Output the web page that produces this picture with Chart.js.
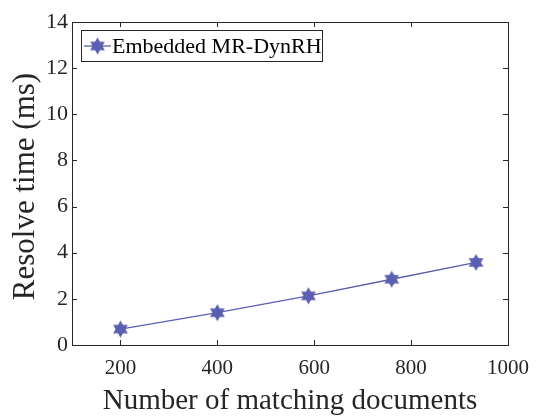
<!DOCTYPE html>
<html>
<head>
<meta charset="utf-8">
<script src="https://cdn.jsdelivr.net/npm/chart.js@4"></script>
<style>
html,body{margin:0;padding:0;background:#fff;}
#c{display:block;}
</style>
</head>
<body>
<canvas id="c" width="540" height="420"></canvas>
<script>
const seriesLabel = 'Embedded MR-DynRH';
const xValues = [200, 400, 588, 760, 934];
const yValues = [0.69, 1.40, 2.13, 2.85, 3.58];
const xTicks = [200, 400, 600, 800, 1000];
const yTicks = [0, 2, 4, 6, 8, 10, 12, 14];
const xTitle = 'Number of matching documents';
const yTitle = 'Resolve time (ms)';

const COLOR = '#5a5fb2';
const AXIS = '#262626';
const FONT = 'Liberation Serif, Times New Roman, serif';

function makeStar(r, color) {
  const s = Math.ceil(r * 2 + 2);
  const cv = document.createElement('canvas');
  cv.width = s; cv.height = s;
  const g = cv.getContext('2d');
  const c = s / 2;
  g.fillStyle = color;
  [[-90, 30, 150], [90, 210, 330]].forEach(angs => {
    g.beginPath();
    angs.forEach((a, i) => {
      const t = a * Math.PI / 180;
      const px = c + r * Math.cos(t), py = c + r * Math.sin(t);
      if (i === 0) g.moveTo(px, py); else g.lineTo(px, py);
    });
    g.closePath();
    g.fill();
  });
  return cv;
}
const star = makeStar(8.5, COLOR);

const boxPlugin = {
  id: 'boxPlugin',
  afterDraw(chart) {
    const ctx = chart.ctx;
    const a = chart.chartArea;
    const xs = chart.scales.x, ys = chart.scales.y;
    ctx.save();
    ctx.strokeStyle = AXIS;
    ctx.lineWidth = 1;
    ctx.strokeRect(Math.round(a.left) + 0.5, Math.round(a.top) + 0.5,
      Math.round(a.right - a.left), Math.round(a.bottom - a.top));
    const tl = 5;
    ctx.beginPath();
    xTicks.forEach(v => {
      const px = Math.round(xs.getPixelForValue(v)) + 0.5;
      ctx.moveTo(px, a.bottom); ctx.lineTo(px, a.bottom - tl);
      ctx.moveTo(px, a.top); ctx.lineTo(px, a.top + tl);
    });
    yTicks.forEach(v => {
      const py = Math.round(ys.getPixelForValue(v)) + 0.5;
      ctx.moveTo(a.left, py); ctx.lineTo(a.left + tl, py);
      ctx.moveTo(a.right, py); ctx.lineTo(a.right - tl, py);
    });
    ctx.stroke();

    // y-axis title
    ctx.save();
    ctx.translate(26, (a.top + a.bottom) / 2 + 3);
    ctx.rotate(-Math.PI / 2);
    ctx.fillStyle = AXIS;
    ctx.font = '31px ' + FONT;
    ctx.textAlign = 'center';
    ctx.textBaseline = 'middle';
    ctx.fillText(yTitle, 0, 0);
    ctx.restore();

    // legend
    const lx = 81.5, ly = 30.5, lw = 241, lh = 31;
    ctx.fillStyle = '#fff';
    ctx.fillRect(lx, ly, lw, lh);
    ctx.strokeStyle = AXIS;
    ctx.strokeRect(lx, ly, lw, lh);
    const ds = chart.data.datasets[0];
    const my = ly + lh / 2;
    ctx.strokeStyle = ds.borderColor;
    ctx.lineWidth = ds.borderWidth;
    ctx.beginPath();
    ctx.moveTo(84, my); ctx.lineTo(111, my);
    ctx.stroke();
    ctx.drawImage(star, 97.5 - star.width / 2, my - star.height / 2);
    ctx.fillStyle = '#000';
    ctx.font = '22px ' + FONT;
    ctx.textBaseline = 'middle';
    ctx.textAlign = 'left';
    ctx.fillText(ds.label, 112, my + 1);
    ctx.restore();
  }
};

new Chart(document.getElementById('c'), {
  type: 'line',
  data: {
    datasets: [{
      label: seriesLabel,
      data: xValues.map((x, i) => ({x: x, y: yValues[i]})),
      borderColor: COLOR,
      backgroundColor: COLOR,
      borderWidth: 1.3,
      pointStyle: star,
      pointRadius: 8,
      pointHoverRadius: 8,
      tension: 0,
      fill: false
    }]
  },
  options: {
    responsive: false,
    animation: false,
    events: [],
    layout: {padding: {top: 22, right: 29, left: 0, bottom: 0}},
    plugins: {legend: {display: false}, tooltip: {enabled: false}},
    scales: {
      x: {
        type: 'linear', min: 100, max: 1000,
        afterFit(s) { s.height = 75; },
        afterBuildTicks(s) { s.ticks = xTicks.map(v => ({value: v})); },
        grid: {display: false, drawTicks: false, tickLength: 0},
        border: {display: false},
        ticks: {color: AXIS, font: {family: FONT, size: 21}, padding: 11, maxRotation: 0, autoSkip: false,
          callback: v => String(v)},
        title: {display: true, text: xTitle, color: AXIS, font: {family: FONT, size: 29}, padding: {top: 0, bottom: 1}}
      },
      y: {
        type: 'linear', min: 0, max: 14,
        afterFit(s) { s.width = 72; },
        afterBuildTicks(s) { s.ticks = yTicks.map(v => ({value: v})); },
        grid: {display: false, drawTicks: false, tickLength: 0},
        border: {display: false},
        ticks: {color: AXIS, font: {family: FONT, size: 22}, padding: 4, autoSkip: false,
          callback: v => String(v)},
        title: {display: false}
      }
    }
  },
  plugins: [boxPlugin]
});
</script>
</body>
</html>
